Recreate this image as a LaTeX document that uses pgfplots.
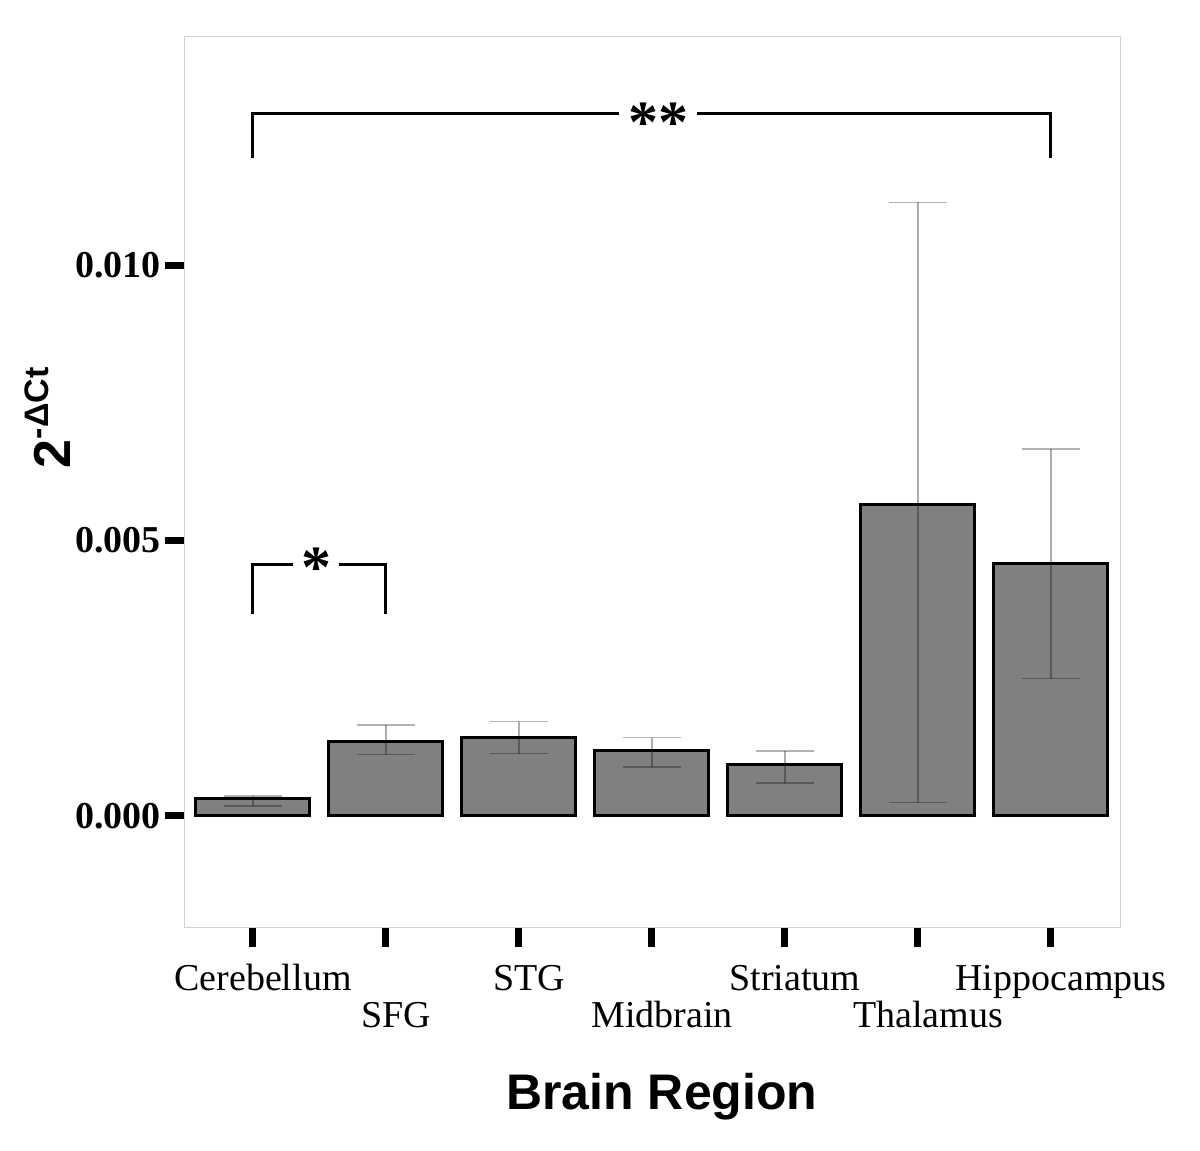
\documentclass[border=0pt]{standalone}
\usepackage{fontspec}
\setmainfont{Liberation Serif}
\setsansfont{Liberation Sans}
\usepackage{pgfplots}
\usepackage{pgfplotstable}
\pgfplotsset{compat=1.18}

% values: mean, upper error, lower error
\pgfplotstableread{
x y ep em
0 0.00031 0.000053 0.00013
1 0.00136 0.00029 0.00025
2 0.00142 0.00029 0.00029
3 0.00118 0.00024 0.00029
4 0.00094 0.00024 0.00034
5 0.00566 0.00548 0.00542
6 0.00459 0.00207 0.00210
}\brain

\newcommand{\dn}[1]{\raisebox{-18.5pt}{#1}}

\begin{document}
\begin{tikzpicture}
\path[use as bounding box] (-92.5pt,-112pt) rectangle (507.5pt,463.5pt);
\begin{axis}[
    at={(0,0)}, anchor=south west,
    width=467.5pt, height=445pt, scale only axis,
    xmin=-0.511, xmax=6.519,
    ymin=-0.002015, ymax=0.01414,
    clip=false,
    axis line style={draw=black!18, line width=0.5pt},
    tick align=outside,
    major tick length=10pt,
    tick style={black, line width=3.5pt},
    xtick pos=bottom, ytick pos=left,
    xtick={0,1,2,3,4,5,6},
    xticklabels={Cerebellum,\dn{SFG},STG,\dn{Midbrain},Striatum,\dn{Thalamus},Hippocampus},
    xticklabel style={font=\fontsize{19}{22}\selectfont, text height=13pt, text depth=0pt, xshift=5pt, yshift=-5pt},
    ytick={0,0.005,0.010},
    scaled y ticks=false,
    yticklabel style={font=\fontsize{19}{22}\selectfont\bfseries, inner xsep=2pt,
        /pgf/number format/.cd, fixed, fixed zerofill, precision=3, assume math mode=true},
    xlabel={\sffamily\bfseries\fontsize{25}{30}\selectfont Brain Region},
    xlabel style={at={(axis description cs:0.510,-0.205)}, anchor=base},
    ylabel={\sffamily\bfseries\fontsize{26}{30}\selectfont 2\raisebox{0.42em}{\fontsize{17}{20}\selectfont -ΔCt}},
    ylabel style={at={(axis description cs:-0.147,0.572)}, anchor=center, rotate=0},
]
\addplot[ybar, fill=gray, draw=black, line width=1.5pt, bar width=57pt,
    error bars/.cd, y dir=both, y explicit,
    error bar style={line width=0.6pt, draw=black, draw opacity=0.3},
    error mark options={rotate=90, mark size=14.5pt, line width=0.6pt, draw=black, draw opacity=0.3}]
    table[x=x, y=y, y error plus=ep, y error minus=em] {\brain};

% significance brackets
\draw[line width=1.5pt] (axis cs:0,0.011942) |- (axis cs:2.75,0.012759);
\draw[line width=1.5pt] (axis cs:3.34,0.012759) -| (axis cs:6,0.011942);
\node[anchor=base, font=\fontsize{30}{32}\selectfont\bfseries, inner sep=0pt] at (axis cs:3.05,0.01222) {**};
\draw[line width=1.5pt] (axis cs:0,0.003666) |- (axis cs:0.30,0.004574);
\draw[line width=1.5pt] (axis cs:0.647,0.004574) -| (axis cs:1,0.003666);
\node[anchor=base, font=\fontsize{30}{32}\selectfont\bfseries, inner sep=0pt] at (axis cs:0.474,0.00415) {*};
\end{axis}
\end{tikzpicture}
\end{document}
